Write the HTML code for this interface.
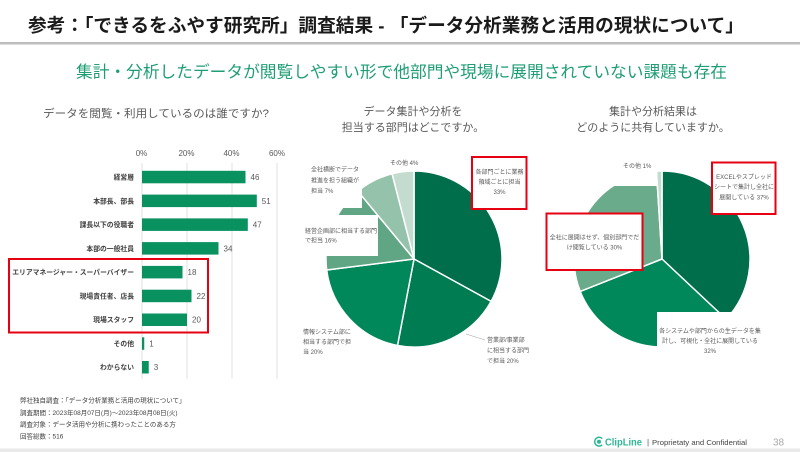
<!DOCTYPE html>
<html lang="ja">
<head>
<meta charset="utf-8">
<style>
  html,body{margin:0;padding:0;background:#fff;}
  body{width:800px;height:452px;overflow:hidden;}
  svg{display:block;}
  text{font-family:"Liberation Sans","Noto Sans CJK JP",sans-serif;}
</style>
</head>
<body>
<svg width="800" height="452" viewBox="0 0 800 452" xmlns="http://www.w3.org/2000/svg">
  <rect x="0" y="0" width="800" height="452" fill="#fff"/>

  <!-- Header -->
  <text x="28" y="32" font-size="18.5" font-weight="bold" fill="#1a1a1a" textLength="716" lengthAdjust="spacingAndGlyphs">参考：「できるをふやす研究所」調査結果 - 「データ分析業務と活用の現状について」</text>
  <rect x="0" y="42" width="800" height="2.5" fill="#bdbdbd"/>

  <text x="76" y="77.5" font-size="16.5" fill="#1f9e73" textLength="651" lengthAdjust="spacingAndGlyphs">集計・分析したデータが閲覧しやすい形で他部門や現場に展開されていない課題も存在</text>

  <!-- Question titles -->
  <text x="43" y="117" font-size="11" fill="#595959" textLength="226" lengthAdjust="spacingAndGlyphs">データを閲覧・利用しているのは誰ですか?</text>
  <text x="413" y="115" font-size="11" fill="#595959" text-anchor="middle">データ集計や分析を</text>
  <text x="413" y="131" font-size="11" fill="#595959" text-anchor="middle">担当する部門はどこですか。</text>
  <text x="653" y="115" font-size="11" fill="#595959" text-anchor="middle">集計や分析結果は</text>
  <text x="653" y="131" font-size="11" fill="#595959" text-anchor="middle">どのように共有していますか。</text>

  <!-- Bar chart -->
  <g stroke="#d9d9d9" stroke-width="0.8">
    <line x1="142" y1="163" x2="142" y2="379"/>
    <line x1="187" y1="163" x2="187" y2="379"/>
    <line x1="232" y1="163" x2="232" y2="379"/>
    <line x1="277" y1="163" x2="277" y2="379"/>
  </g>
  <g font-size="8" fill="#595959" text-anchor="middle">
    <text x="141.5" y="156">0%</text>
    <text x="186.5" y="156">20%</text>
    <text x="231.5" y="156">40%</text>
    <text x="277" y="156">60%</text>
  </g>
  <g fill="#0a9160">
    <rect x="142" y="170.8" width="103.5" height="12.5"/>
    <rect x="142" y="194.6" width="114.8" height="12.5"/>
    <rect x="142" y="218.4" width="105.8" height="12.5"/>
    <rect x="142" y="242.1" width="76.5" height="12.5"/>
    <rect x="142" y="265.9" width="40.5" height="12.5"/>
    <rect x="142" y="289.7" width="49.5" height="12.5"/>
    <rect x="142" y="313.5" width="45" height="12.5"/>
    <rect x="142" y="337.3" width="2.25" height="12.5"/>
    <rect x="142" y="361.0" width="6.75" height="12.5"/>
  </g>
  <g font-size="6.8" font-weight="bold" fill="#404040" text-anchor="end">
    <text x="134" y="179.5">経営層</text>
    <text x="134" y="203.3">本部長、部長</text>
    <text x="134" y="227.1">課長以下の役職者</text>
    <text x="134" y="250.8">本部の一般社員</text>
    <text x="134" y="274.6">エリアマネージャー・スーパーバイザー</text>
    <text x="134" y="298.4">現場責任者、店長</text>
    <text x="134" y="322.2">現場スタッフ</text>
    <text x="134" y="346.0">その他</text>
    <text x="134" y="369.7">わからない</text>
  </g>
  <g font-size="8" fill="#595959">
    <text x="250.5" y="180">46</text>
    <text x="261.8" y="203.8">51</text>
    <text x="252.8" y="227.6">47</text>
    <text x="223.5" y="251.3">34</text>
    <text x="187.5" y="275.1">18</text>
    <text x="196.5" y="298.9">22</text>
    <text x="192" y="322.7">20</text>
    <text x="149.3" y="346.5">1</text>
    <text x="153.8" y="370.2">3</text>
  </g>
  <rect x="9" y="259" width="199" height="73.5" fill="none" stroke="#e60012" stroke-width="2"/>

  <!-- Pie 1 -->
  <g stroke="#fff" stroke-width="1.5" stroke-linejoin="round">
    <path d="M414,259 L414,171 A88,88 0 0 1 491.11,301.40 Z" fill="#006e4a"/>
    <path d="M414,259 L491.11,301.40 A88,88 0 0 1 397.51,345.44 Z" fill="#007c52"/>
    <path d="M414,259 L397.51,345.44 A88,88 0 0 1 326.69,270.03 Z" fill="#00875a"/>
    <path d="M414,259 L326.69,270.03 A88,88 0 0 1 357.91,191.20 Z" fill="#60a685"/>
    <path d="M414,259 L357.91,191.20 A88,88 0 0 1 392.11,173.76 Z" fill="#94c2aa"/>
    <path d="M414,259 L392.11,173.76 A88,88 0 0 1 414,171 Z" fill="#c4dccf"/>
  </g>
  <!-- label boxes pie 1 -->
  <rect x="298" y="156" width="64" height="52" fill="#fff"/>
  <rect x="298" y="215" width="80" height="41" fill="#fff"/>
  <rect x="472" y="157" width="54.5" height="52" fill="#fff" stroke="#e60012" stroke-width="2"/>
  <line x1="466" y1="334" x2="485" y2="340" stroke="#a6a6a6" stroke-width="0.6"/>
  <g font-size="6" fill="#595959">
    <text x="311" y="171.5">全社横断でデータ</text>
    <text x="311" y="182.5">推進を担う組織が</text>
    <text x="311" y="193">担当 7%</text>
    <text x="305" y="233">経営企画部に相当する部門</text>
    <text x="305" y="242.5">で担当 16%</text>
    <text x="390" y="165">その他 4%</text>
    <text x="487" y="342">営業部/事業部</text>
    <text x="487" y="352.5">に相当する部門</text>
    <text x="487" y="363">で担当 20%</text>
    <text x="303" y="334">情報システム部に</text>
    <text x="303" y="344">相当する部門で担</text>
    <text x="303" y="354">当 20%</text>
  </g>
  <g font-size="6" fill="#595959" text-anchor="middle">
    <text x="499.5" y="174">各部門ごとに業務</text>
    <text x="499.5" y="184">領域ごとに担当</text>
    <text x="499.5" y="194">33%</text>
  </g>

  <!-- Pie 2 -->
  <g stroke="#fff" stroke-width="1.5" stroke-linejoin="round">
    <path d="M662,259 L662,171 A88,88 0 0 1 726.15,319.24 Z" fill="#006e4a"/>
    <path d="M662,259 L726.15,319.24 A88,88 0 0 1 580.18,291.39 Z" fill="#00875a"/>
    <path d="M662,259 L580.18,291.39 A88,88 0 0 1 656.47,171.18 Z" fill="#6aab8b"/>
    <path d="M662,259 L656.47,171.18 A88,88 0 0 1 662,171 Z" fill="#c4dccf"/>
  </g>
  <rect x="600" y="150" width="57.5" height="36" fill="#fff"/>
  <rect x="657" y="312" width="105" height="50" fill="#fff"/>
  <rect x="712" y="162.5" width="63.5" height="51.5" fill="#fff" stroke="#e60012" stroke-width="2"/>
  <rect x="546.5" y="213.5" width="96" height="56.5" fill="#fff" stroke="#e60012" stroke-width="2"/>
  <g font-size="6" fill="#595959">
    <text x="623" y="168">その他 1%</text>
  </g>
  <g font-size="6" fill="#595959" text-anchor="middle">
    <text x="744" y="179">EXCELやスプレッド</text>
    <text x="744" y="189">シートで集計し全社に</text>
    <text x="744" y="199.5">展開している 37%</text>
    <text x="594.5" y="239.5">全社に展開はせず、個別部門でだ</text>
    <text x="594.5" y="249.5">け閲覧している 30%</text>
    <text x="710" y="333">各システムや部門からの生データを集</text>
    <text x="710" y="343">計し、可視化・全社に展開している</text>
    <text x="710" y="353">32%</text>
  </g>

  <!-- Footnotes -->
  <g font-size="6.5" fill="#404040">
    <text x="20" y="402.5">弊社独自調査：「データ分析業務と活用の現状について」</text>
    <text x="20" y="415">調査期間：2023年08月07日(月)～2023年08月08日(火)</text>
    <text x="20" y="426.5">調査対象：データ活用や分析に携わったことのある方</text>
    <text x="20" y="438.5">回答総数：516</text>
  </g>

  <!-- Footer -->
  <g>
    <path d="M602.2,438.6 A4.4,4.4 0 1 0 602.2,444.8" fill="none" stroke="#2db894" stroke-width="1.5"/>
    <circle cx="599" cy="441.7" r="2" fill="#2db894"/>
    <text x="605" y="445.5" font-size="10.5" fill="#2db894" font-weight="bold" textLength="37" lengthAdjust="spacingAndGlyphs">ClipLine</text>
    <text x="647" y="445" font-size="8" fill="#555">|</text>
    <text x="652" y="445" font-size="7.5" fill="#444" textLength="95" lengthAdjust="spacingAndGlyphs">Proprietaty and Confidential</text>
    <text x="773" y="445.5" font-size="10" fill="#aaaaaa">38</text>
  </g>
  <rect x="0" y="448.5" width="800" height="3.5" fill="#e9e9e9"/>
</svg>
</body>
</html>
